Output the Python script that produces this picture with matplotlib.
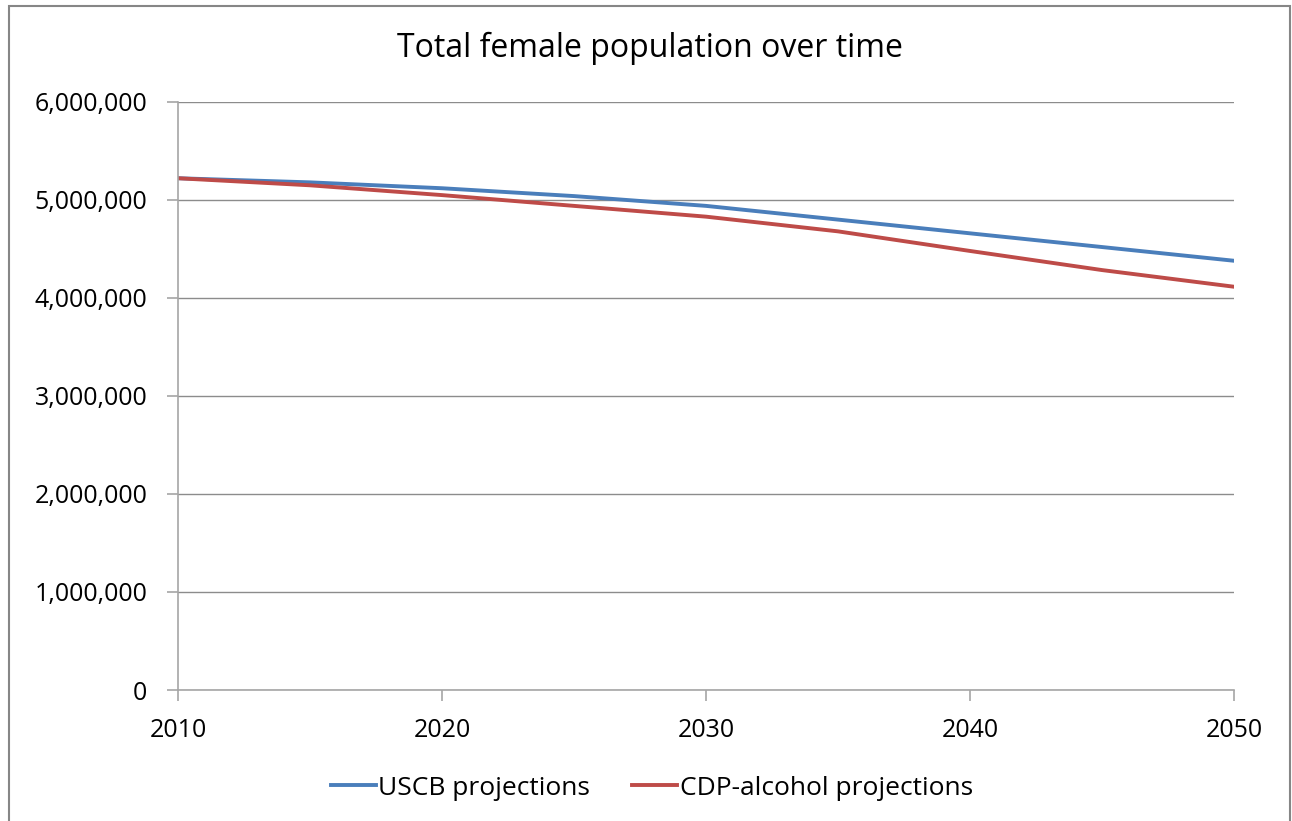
import matplotlib
matplotlib.use("Agg")
import matplotlib.pyplot as plt
from matplotlib.patches import Rectangle
from matplotlib.ticker import FuncFormatter

years = [2010, 2015, 2020, 2025, 2030, 2035, 2040, 2045, 2050]
uscb = [5222000, 5180000, 5120000, 5040000, 4940000, 4800000, 4660000, 4520000, 4380000]
cdp_alcohol = [5222000, 5150000, 5050000, 4940000, 4830000, 4680000, 4480000, 4285000, 4115000]
title = "Total female population over time"
series_names = ["USCB projections", "CDP-alcohol projections"]
xticks = [2010, 2020, 2030, 2040, 2050]
yticks = [0, 1000000, 2000000, 3000000, 4000000, 5000000, 6000000]

plt.rcParams['font.family'] = ['Open Sans', 'DejaVu Sans']

fig = plt.figure(figsize=(12.92, 8.21), dpi=100)
W, H = 1292, 821
ax = fig.add_axes([178 / W, (H - 690) / H, (1234 - 178) / W, (690 - 102) / H])

# chart border
fig.patches.append(Rectangle((9 / W, -0.05), (1290 - 9) / W, (H - 6) / H + 0.05,
                             transform=fig.transFigure, fill=False,
                             edgecolor='#868686', linewidth=1.5))

ax.plot(years, uscb, color='#4A7EBB', linewidth=2.8, label=series_names[0])
ax.plot(years, cdp_alcohol, color='#BE4B48', linewidth=2.8, label=series_names[1])

ax.set_xlim(2010, 2050)
ax.set_ylim(0, 6000000)
ax.set_xticks(xticks)
ax.set_yticks(yticks)
ax.yaxis.set_major_formatter(FuncFormatter(lambda v, p: f"{int(v):,}"))
ax.grid(axis='y', color='#8c8c8c', linewidth=1)
ax.set_axisbelow(True)
for s in ['top', 'right']:
    ax.spines[s].set_visible(False)
for s in ['left', 'bottom']:
    ax.spines[s].set_color('#a6a6a6')
    ax.spines[s].set_linewidth(1.2)
ax.tick_params(axis='both', direction='out', length=8, width=1.2, color='#a6a6a6',
               labelsize=18, labelcolor='black')
ax.tick_params(axis='x', pad=12)
ax.tick_params(axis='y', pad=14)

fig.text(650 / W, (H - 48) / H, title, ha='center', va='center', fontsize=23)

fig.legend(loc='center', bbox_to_anchor=(652 / W, (H - 788) / H), ncol=2, frameon=False,
           fontsize=19, handlelength=1.7, handletextpad=0.1, columnspacing=1.6)

fig.savefig("out.png", dpi=100)
